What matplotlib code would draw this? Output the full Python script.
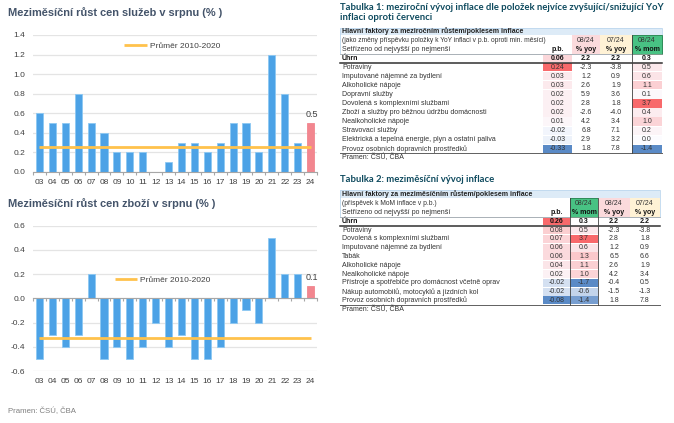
import matplotlib
matplotlib.use('Agg')
import matplotlib.pyplot as plt
from matplotlib.patches import Rectangle
from matplotlib.ticker import FormatStrFormatter, FixedLocator, MultipleLocator
from matplotlib.colors import to_rgb
import numpy as np

plt.rcParams['axes.unicode_minus'] = False

# ---------------- data ----------------
years = ['03', '04', '05', '06', '07', '08', '09', '10', '11', '12', '13',
         '14', '15', '16', '17', '18', '19', '20', '21', '22', '23', '24']
services = [0.6, 0.5, 0.5, 0.8, 0.5, 0.4, 0.2, 0.2, 0.2, 0.0, 0.1,
            0.3, 0.3, 0.2, 0.3, 0.5, 0.5, 0.2, 1.2, 0.8, 0.3, 0.5]
goods = [-0.5, -0.3, -0.4, -0.3, 0.2, -0.5, -0.4, -0.5, -0.4, -0.2, -0.4,
         -0.3, -0.5, -0.5, -0.4, -0.2, -0.1, -0.2, 0.5, 0.2, 0.2, 0.1]
avg_services = 0.26
avg_goods = -0.33
avg_label = 'Průměr 2010-2020'
title_services = 'Meziměsíční růst cen služeb v srpnu (% )'
title_goods = 'Meziměsíční růst cen zboží v srpnu (% )'
source = 'Pramen: ČSÚ, ČBA'

t1_title = ['Tabulka 1: meziroční vývoj inflace dle položek nejvíce zvyšující/snižující YoY',
            'inflaci oproti červenci']
t1_band = 'Hlavní faktory za meziročním růstem/poklesem inflace'
t1_sub = '(jako změny příspěvku položky k YoY inflaci v p.b. oproti min. měsíci)'
t1_heads = [('', 'p.b.'), ('08/24', '% yoy'), ('07/24', '% yoy'), ('08/24', '% mom')]
t1_labels = ['Potraviny', 'Imputované nájemné za bydlení', 'Alkoholické nápoje',
             'Dopravní služby', 'Dovolená s komplexními službami',
             'Zboží a služby pro běžnou údržbu domácnosti', 'Nealkoholické nápoje',
             'Stravovací služby', 'Elektrická a tepelná energie, plyn a ostatní paliva',
             'Provoz osobních dopravních prostředků']
t1_pb = [0.24, 0.03, 0.03, 0.02, 0.02, 0.02, 0.01, -0.02, -0.03, -0.33]
t1_yoy08 = [-2.3, 1.2, 2.6, 5.9, 2.8, -2.6, 4.2, 6.8, 2.9, 1.8]
t1_yoy07 = [-3.8, 0.9, 1.9, 3.6, 1.8, -4.0, 3.4, 7.1, 3.2, 7.8]
t1_mom08 = [0.5, 0.6, 1.1, 0.1, 3.7, 0.4, 1.0, 0.2, 0.0, -1.4]
t1_total = [0.06, 2.2, 2.2, 0.3]

t2_title = ['Tabulka 2: meziměsíční vývoj inflace']
t2_band = 'Hlavní faktory za meziměsíčním růstem/poklesem inflace'
t2_sub = '(příspěvek k MoM inflace v p.b.)'
t2_heads = [('', 'p.b.'), ('08/24', '% mom'), ('08/24', '% yoy'), ('07/24', '% yoy')]
t2_labels = ['Potraviny', 'Dovolená s komplexními službami', 'Imputované nájemné za bydlení',
             'Tabák', 'Alkoholické nápoje', 'Nealkoholické nápoje',
             'Přístroje a spotřebiče pro domácnost včetně oprav',
             'Nákup automobilů, motocyklů a jízdních kol',
             'Provoz osobních dopravních prostředků']
t2_pb = [0.08, 0.07, 0.06, 0.06, 0.04, 0.02, -0.02, -0.02, -0.08]
t2_mom08 = [0.5, 3.7, 0.6, 1.3, 1.1, 1.0, -1.7, -0.6, -1.4]
t2_yoy08 = [-2.3, 2.8, 1.2, 6.5, 2.6, 4.2, -0.4, -1.5, 1.8]
t2_yoy07 = [-3.8, 1.8, 0.9, 6.6, 1.9, 3.4, 0.5, -1.3, 7.8]
t2_total = [0.26, 0.3, 2.2, 2.2]
sort_text = 'Setřízeno od nejvyšší po nejmenší'
total_text = 'Úhrn'

# ---------------- style ----------------
BLUE = '#4CA2E6'
EDGE = '#8DC8F3'
PINK = '#F2868F'
ORANGE = '#FFC24C'
GRID = '#E4E4E4'
AXC = '#A6A6A6'
TITLEC = '#44546A'
TEAL = '#0E4A5E'
FONT = ['Liberation Sans', 'DejaVu Sans']
TFONT = ['Liberation Sans', 'DejaVu Sans']

W, H = 674, 423
fig = plt.figure(figsize=(W / 100, H / 100), dpi=100)


def add_ax(l, t, r, b):
    return fig.add_axes([l / W, 1 - b / H, (r - l) / W, (b - t) / H])


def bar_chart(ax, vals, avg, ylim, leg_xy, zero_axis):
    x = np.arange(len(years))
    colors = [BLUE] * (len(vals) - 1) + [PINK]
    edges = [EDGE] * (len(vals) - 1) + [PINK]
    ax.bar(x, vals, width=0.55, color=colors, edgecolor=edges, linewidth=0.6, zorder=3)
    ax.plot([x[0], x[-1]], [avg, avg], color=ORANGE, lw=2.0, zorder=4,
            solid_capstyle='butt', label=avg_label)
    ax.annotate(f'{vals[-1]:.1f}', (x[-1], vals[-1]), xytext=(1, 3),
                textcoords='offset points', ha='center', va='bottom',
                fontsize=6.5, color='#404040', family=FONT)
    ax.set_xlim(-0.5, len(years) - 0.5)
    ax.set_ylim(*ylim)
    ax.yaxis.set_major_locator(MultipleLocator(0.2))
    ax.yaxis.set_major_formatter(FormatStrFormatter('%.1f'))
    ax.yaxis.grid(True, color=GRID, lw=0.9, zorder=0)
    ax.set_axisbelow(True)
    for s in ('top', 'left', 'right'):
        ax.spines[s].set_visible(False)
    ax.spines['bottom'].set_color(AXC)
    ax.spines['bottom'].set_linewidth(0.8)
    ax.spines['bottom'].set_zorder(5)
    ax.tick_params(axis='y', length=0, pad=5.5, labelsize=6, labelcolor='#404040')
    for lab in ax.get_yticklabels():
        lab.set_family(FONT)
    bounds = np.arange(len(years) + 1) - 0.5
    if zero_axis:
        ax.spines['bottom'].set_position(('data', 0))
        ax.set_xticks(bounds)
        ax.set_xticklabels([])
        ax.tick_params(axis='x', length=2.2, color=AXC, width=0.8)
        sec = ax.secondary_xaxis('bottom')
        sec.set_xticks(x)
        sec.set_xticklabels(years)
        sec.tick_params(length=0, pad=5.3, labelsize=6, labelcolor='#404040')
        sec.spines['bottom'].set_visible(False)
        for lab in sec.get_xticklabels():
            lab.set_family(FONT)
    else:
        ax.set_xticks(x)
        ax.set_xticklabels(years)
        ax.xaxis.set_minor_locator(FixedLocator(bounds))
        ax.tick_params(axis='x', which='major', length=0, pad=5.3, labelsize=6,
                       labelcolor='#404040')
        ax.tick_params(axis='x', which='minor', length=2.2, color=AXC, width=0.8)
        for lab in ax.get_xticklabels():
            lab.set_family(FONT)
    ax.legend(loc='center left', bbox_to_anchor=leg_xy, frameon=False,
              handlelength=2.7, handletextpad=0.35, borderpad=0, borderaxespad=0,
              prop={'family': FONT, 'size': 6.0}, labelcolor='#404040')


ax1 = add_ax(33, 35, 317, 172)
bar_chart(ax1, services, avg_services, (0, 1.4), (0.322, 0.92), False)
ax2 = add_ax(33, 225.7, 317, 371)
bar_chart(ax2, goods, avg_goods, (-0.6, 0.6), (0.288, 0.626), True)

fig.text(8 / W, 1 - 13 / H, title_services, ha='left', va='center', fontsize=7.9,
         fontweight='bold', color=TITLEC, family=FONT)
fig.text(8 / W, 1 - 204 / H, title_goods, ha='left', va='center', fontsize=7.9,
         fontweight='bold', color=TITLEC, family=FONT)
fig.text(8 / W, 1 - 411.5 / H, source, ha='left', va='center', fontsize=5.6,
         color='#7F7F7F', family=FONT)

# ---------------- tables ----------------
tax = fig.add_axes([0, 0, 1, 1], zorder=10)
tax.set_xlim(0, W)
tax.set_ylim(H, 0)
tax.axis('off')
tax.patch.set_alpha(0)

WHITE = np.array(to_rgb('#FCFCFF'))
RED = np.array(to_rgb('#F8696B'))
BLU = np.array(to_rgb('#5A8AC6'))


def heat(v, vmin, vmax):
    if v >= 0:
        t = v / vmax if vmax > 0 else 0
        return tuple(WHITE + (RED - WHITE) * t)
    t = v / vmin if vmin < 0 else 0
    return tuple(WHITE + (BLU - WHITE) * t)


FILLS = {'pink': '#FBDADC', 'beige': '#FFF2D5', 'green': '#48C283'}


def draw_table(title, title_y, band, sub, heads, head_fill, labels, cols, total,
               heat_cols, total_heat, x0, x1, edges, y_band, y_r2, y_r3, y_tot,
               y_d0, rh, vlines):
    fs = 5.0
    n = len(labels)
    for i, line in enumerate(title):
        tax.text(x0, title_y + i * 10, line, ha='left', va='center', fontsize=6.8,
                 fontweight='bold', color=TEAL, family=['Lato', 'DejaVu Sans'])
    tax.add_patch(Rectangle((x0, y_band), x1 - x0, y_r2 - y_band, fc='#DDEBF7', ec='none'))
    tax.add_patch(Rectangle((x0, y_band), x1 - x0, y_tot - y_band, fc='none',
                            ec='#BDD7EE', lw=0.6))
    tax.text(x0 + 2, (y_band + y_r2) / 2, band, ha='left', va='center', fontsize=fs,
             fontweight='bold', color='#222222', family=TFONT)
    tax.text(x0 + 2, (y_r2 + y_r3) / 2, sub, ha='left', va='center', fontsize=4.8,
             color='#333333', family=TFONT)
    tax.text(x0 + 2, (y_r3 + y_tot) / 2, sort_text, ha='left', va='center', fontsize=fs,
             color='#333333', family=TFONT)
    for j, (h1, h2) in enumerate(heads):
        cx = (edges[j] + edges[j + 1]) / 2
        f = head_fill[j]
        if f is not None:
            ec = '#2E8B57' if f == 'green' else 'none'
            tax.add_patch(Rectangle((edges[j], y_r2), edges[j + 1] - edges[j], y_tot - y_r2,
                                    fc=FILLS[f], ec=ec, lw=0.7))
        tax.text(cx, (y_r2 + y_r3) / 2, h1, ha='center', va='center', fontsize=fs,
                 color='#333333', family=TFONT)
        tax.text(cx, (y_r3 + y_tot) / 2, h2, ha='center', va='center', fontsize=fs,
                 fontweight='bold', color='#111111', family=TFONT)
    # total row
    yt = (y_tot + y_d0) / 2
    tax.text(x0 + 2, yt, total_text, ha='left', va='center', fontsize=fs,
             fontweight='bold', color='#111111', family=TFONT)
    for j, v in enumerate(total):
        cx = (edges[j] + edges[j + 1]) / 2
        if j in total_heat:
            vals = cols[j] + [v]
            tax.add_patch(Rectangle((edges[j], y_tot + 0.4), edges[j + 1] - edges[j],
                                    y_d0 - y_tot - 0.8, fc=heat(v, min(vals), max(vals)),
                                    ec='none'))
        fmt = '%.2f' if j == 0 else '%.1f'
        tax.text(cx, yt, fmt % v, ha='center', va='center', fontsize=fs,
                 fontweight='bold', color='#111111', family=TFONT)
    # data rows
    for i, lab in enumerate(labels):
        yc = y_d0 + (i + 0.5) * rh
        tax.text(x0 + 2, yc, lab, ha='left', va='center', fontsize=fs,
                 color='#333333', family=TFONT)
        for j, col in enumerate(cols):
            cx = (edges[j] + edges[j + 1]) / 2
            v = col[i]
            if j in heat_cols:
                vals = col + ([total[j]] if j in total_heat else [])
                tax.add_patch(Rectangle((edges[j], y_d0 + i * rh + 0.4),
                                        edges[j + 1] - edges[j], rh - 0.8,
                                        fc=heat(v, min(vals), max(vals)), ec='none'))
            fmt = '%.2f' if j == 0 else '%.1f'
            tax.text(cx, yc, fmt % v, ha='center', va='center', fontsize=fs,
                     color='#333333', family=TFONT)
    y_end = y_d0 + n * rh
    tax.plot([x0, x1], [y_tot, y_tot], color='#A0A0A0', lw=0.5)
    tax.plot([x0, x1], [y_d0, y_d0], color='#303030', lw=1.1)
    tax.plot([x0, x1], [y_end, y_end], color='#606060', lw=0.7)
    for vx in vlines:
        tax.plot([vx, vx], [y_r2, y_end], color='#404040', lw=0.6)
    tax.text(x0 + 2, y_end + 4.5, source, ha='left', va='center', fontsize=fs,
             color='#333333', family=TFONT)


draw_table(t1_title, 7, t1_band, t1_sub, t1_heads, [None, 'pink', 'beige', 'green'],
           t1_labels, [t1_pb, t1_yoy08, t1_yoy07, t1_mom08], t1_total,
           heat_cols=[0, 3], total_heat=[0], x0=340, x1=662,
           edges=[543, 572, 600, 632, 662], y_band=27.7, y_r2=35.3, y_r3=45,
           y_tot=54.3, y_d0=62.7, rh=9.06, vlines=[632])

draw_table(t2_title, 180, t2_band, t2_sub, t2_heads, [None, 'green', 'pink', 'beige'],
           t2_labels, [t2_pb, t2_mom08, t2_yoy08, t2_yoy07], t2_total,
           heat_cols=[0, 1], total_heat=[0], x0=340, x1=660,
           edges=[543, 570, 598, 630, 660], y_band=190, y_r2=198.3, y_r3=208.3,
           y_tot=217.3, y_d0=225.7, rh=8.8, vlines=[570, 598])

fig.savefig('out.png', dpi=100)
